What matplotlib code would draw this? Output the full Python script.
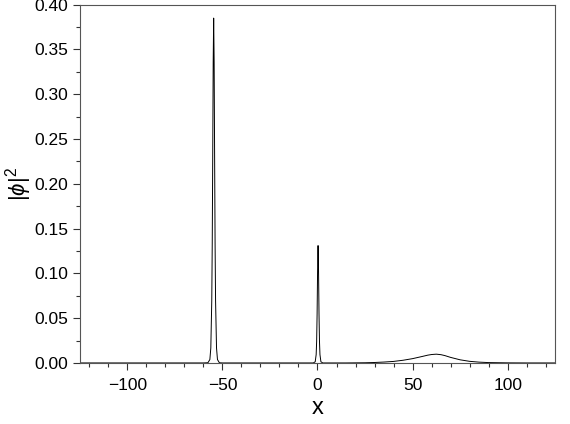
import matplotlib
matplotlib.use("Agg")
import matplotlib.pyplot as plt
from matplotlib.ticker import MultipleLocator

plt.rcParams['font.family'] = ['Liberation Sans', 'DejaVu Sans']
plt.rcParams['mathtext.fontset'] = 'custom'
plt.rcParams['mathtext.rm'] = 'Liberation Sans'
plt.rcParams['mathtext.it'] = 'Liberation Sans:italic'

x_vals = [-125, -80, -65, -60, -58, -57.6, -56.6, -56.1, -55.6, -55.35, -55.1, -54.85, -54.6,
          -54.35, -54.1, -53.85, -53.6, -53.1, -52.6, -51.6, -50, -40, -20,
          -5, -2.2, -1.2, -0.7, -0.45, -0.2, 0.05, 0.3, 0.55, 0.8, 1.05, 1.3, 1.8, 2.8, 5,
          15, 25, 30, 35, 40, 45, 50, 55, 58, 60, 62.5, 65, 67, 70, 75, 80, 85, 90, 100, 110, 125]
y_vals = [0.0, 0.0, 0.0, 0.0, 0.0002, 0.0003, 0.0038, 0.0167, 0.0696, 0.1329, 0.2297, 0.3356, 0.385,
          0.3356, 0.2297, 0.1329, 0.0696, 0.0167, 0.0038, 0.0002, 0.0, 0.0, 0.0,
          0.0, 0.0, 0.0013, 0.0093, 0.0237, 0.055, 0.103, 0.131, 0.103, 0.055, 0.0237, 0.0093, 0.0013, 0.0, 0.0,
          0.0, 0.0002, 0.0005, 0.001, 0.0017, 0.003, 0.0048, 0.0072, 0.0087, 0.0094, 0.0098, 0.0092, 0.0082, 0.0062, 0.0035, 0.0018, 0.0009, 0.0004, 0.0001, 0.0, 0.0]

fig = plt.figure(figsize=(5.7, 4.24), dpi=100)
ax = fig.add_axes([0.140, 0.144, 0.834, 0.845])
ax.plot(x_vals, y_vals, color='black', lw=0.7)

ax.set_xlim(-125, 125)
ax.set_ylim(0, 0.40)
ax.xaxis.set_major_locator(MultipleLocator(50))
ax.xaxis.set_minor_locator(MultipleLocator(10))
ax.yaxis.set_major_locator(MultipleLocator(0.05))
ax.yaxis.set_minor_locator(MultipleLocator(0.025))
ax.yaxis.set_major_formatter(matplotlib.ticker.FormatStrFormatter('%.2f'))
ax.tick_params(which='major', direction='out', length=5, width=0.8, labelsize=12.5,
               colors='#333333', labelcolor='black')
ax.tick_params(axis='x', which='major', pad=6)
ax.tick_params(which='minor', direction='out', length=3, width=0.8, colors='#333333')
for s in ax.spines.values():
    s.set_color('#555555')
    s.set_linewidth(0.8)

ax.set_xlabel('x', fontsize=17, labelpad=3)
ax.set_ylabel(r'$|\phi|^2$', fontsize=16, labelpad=0)

fig.savefig('out.png', dpi=100)
